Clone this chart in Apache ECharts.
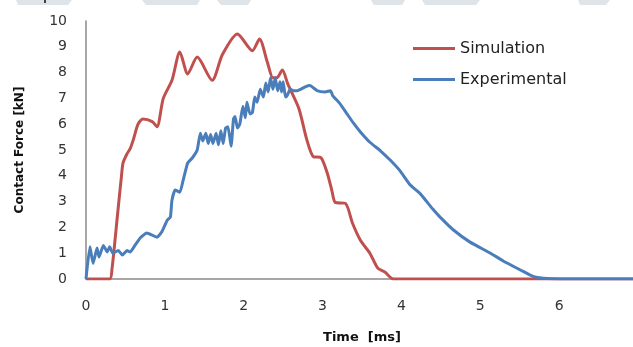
<!DOCTYPE html>
<html><head><meta charset="utf-8">
<script src="https://cdn.jsdelivr.net/npm/echarts@6/dist/echarts.min.js"></script>
<style>html,body{margin:0;padding:0;background:#fff}#c{width:633px;height:347px}</style>
</head><body><div id="c"></div>
<script>
// Time [ms] / Contact Force [kN]
const simTime = [0,0.30,0.33,0.40,0.45,0.47,0.52,0.56,0.60,0.66,0.72,0.84,0.90,0.98,1.09,1.19,1.29,1.41,1.60,1.73,1.92,2.11,2.20,2.30,2.37,2.42,2.49,2.56,2.70,2.80,2.88,2.98,3.06,3.12,3.16,3.29,3.38,3.48,3.60,3.70,3.79,3.90,7.0];
const simForce = [0,0,0.4,2.5,4.0,4.5,4.85,5.05,5.4,6.0,6.2,6.1,5.9,7.0,7.7,8.8,7.95,8.6,7.7,8.7,9.5,8.85,9.3,8.4,7.8,7.8,8.1,7.55,6.6,5.4,4.75,4.7,4.1,3.4,2.97,2.93,2.16,1.5,1.0,0.42,0.27,0,0];
const expTime = [0,0.05,0.09,0.14,0.165,0.22,0.27,0.30,0.34,0.41,0.46,0.52,0.56,0.62,0.69,0.77,0.84,0.90,0.96,1.03,1.07,1.09,1.13,1.19,1.23,1.29,1.35,1.41,1.45,1.48,1.52,1.55,1.58,1.61,1.65,1.68,1.71,1.74,1.77,1.80,1.84,1.87,1.89,1.92,1.95,1.99,2.02,2.04,2.08,2.11,2.14,2.17,2.21,2.25,2.28,2.31,2.34,2.37,2.40,2.43,2.46,2.48,2.50,2.53,2.55,2.59,2.63,2.68,2.72,2.78,2.84,2.93,3.03,3.10,3.13,3.22,3.31,3.39,3.48,3.60,3.73,3.86,3.98,4.11,4.24,4.40,4.49,4.66,4.87,5.13,5.29,5.51,5.67,5.80,6.02,7.0];
const expForce = [0,1.25,0.6,1.2,0.85,1.3,1.05,1.25,1.0,1.1,0.93,1.1,1.05,1.3,1.6,1.78,1.7,1.62,1.82,2.28,2.4,3.05,3.45,3.36,3.8,4.5,4.7,5.0,5.65,5.35,5.65,5.25,5.6,5.25,5.65,5.2,5.75,5.25,5.85,5.9,5.15,6.2,6.3,5.85,6.0,6.7,6.25,6.85,6.4,6.45,7.05,6.85,7.35,7.05,7.6,7.25,7.8,7.35,7.8,7.3,7.65,7.25,7.65,7.05,7.1,7.35,7.3,7.3,7.35,7.45,7.5,7.3,7.25,7.3,7.1,6.8,6.4,6.05,5.7,5.3,4.98,4.6,4.2,3.65,3.3,2.7,2.4,1.9,1.43,1.0,0.7,0.35,0.1,0.03,0,0];
const xTicks = [0,7,1];
const yTicks = [0,10,1];

const zip = (a,b)=>a.map((v,i)=>[v,b[i]]);
const chart = echarts.init(document.getElementById('c'), null, {renderer:'canvas'});
const lblFont = {fontFamily:'DejaVu Sans', fontSize:14, color:'#333'};
const gray = '#dfe4e8';
chart.setOption({
  animation:false,
  backgroundColor:'#fff',
  grid:{left:86, width:552, top:21, bottom:68, containLabel:false, outerBoundsMode:'none'},
  legend:{
    orient:'vertical', left:408, top:35, itemWidth:42, itemHeight:3, itemGap:14,
    icon:'rect',
    textStyle:{fontFamily:'DejaVu Sans', fontSize:16, color:'#222', lineHeight:17},
    data:['Simulation','Experimental']
  },
  xAxis:{
    type:'value', min:xTicks[0], max:xTicks[1], interval:xTicks[2],
    name:'Time  [ms]', nameLocation:'middle', nameGap:52,
    nameTextStyle:{fontFamily:'DejaVu Sans', fontSize:13, fontWeight:'bold', color:'#111'},
    axisLine:{lineStyle:{color:'#8a8a8a', width:1.5}},
    axisTick:{show:false}, splitLine:{show:false},
    axisLabel:{...lblFont, margin:20}
  },
  yAxis:{
    type:'value', min:yTicks[0], max:yTicks[1], interval:yTicks[2],
    name:'Contact Force [kN]', nameLocation:'middle', nameGap:60, nameRotate:90,
    nameTextStyle:{fontFamily:'DejaVu Sans', fontSize:12, fontWeight:'bold', color:'#111'},
    axisLine:{show:true, lineStyle:{color:'#8a8a8a', width:1.5}},
    axisTick:{show:false}, splitLine:{show:false},
    axisLabel:{...lblFont, margin:19}
  },
  series:[
    {name:'Simulation', type:'line', data:zip(simTime, simForce), showSymbol:false, symbol:'none',
     smooth:0.25, lineStyle:{color:'#C0504D', width:3}, itemStyle:{color:'#C0504D'}},
    {name:'Experimental', type:'line', data:zip(expTime, expForce), showSymbol:false, symbol:'none',
     smooth:0.15, lineStyle:{color:'#4A7EBB', width:3}, itemStyle:{color:'#4A7EBB'}}
  ],
  graphic:[
    {type:'polygon', shape:{points:[[16,0],[72,0],[68,5],[18,5]]}, style:{fill:gray}},
    {type:'polygon', shape:{points:[[142,0],[200,0],[197,5],[146,5]]}, style:{fill:gray}},
    {type:'polygon', shape:{points:[[217,0],[251,0],[248,5],[221,5]]}, style:{fill:gray}},
    {type:'polygon', shape:{points:[[371,0],[405,0],[402,5],[374,5]]}, style:{fill:gray}},
    {type:'polygon', shape:{points:[[422,0],[480,0],[476,5],[425,5]]}, style:{fill:gray}},
    {type:'polygon', shape:{points:[[578,0],[610,0],[606,5],[580,5]]}, style:{fill:gray}},
    {type:'rect', shape:{x:44,y:0,width:2,height:3}, style:{fill:'#444'}}
  ]
});
</script></body></html>
